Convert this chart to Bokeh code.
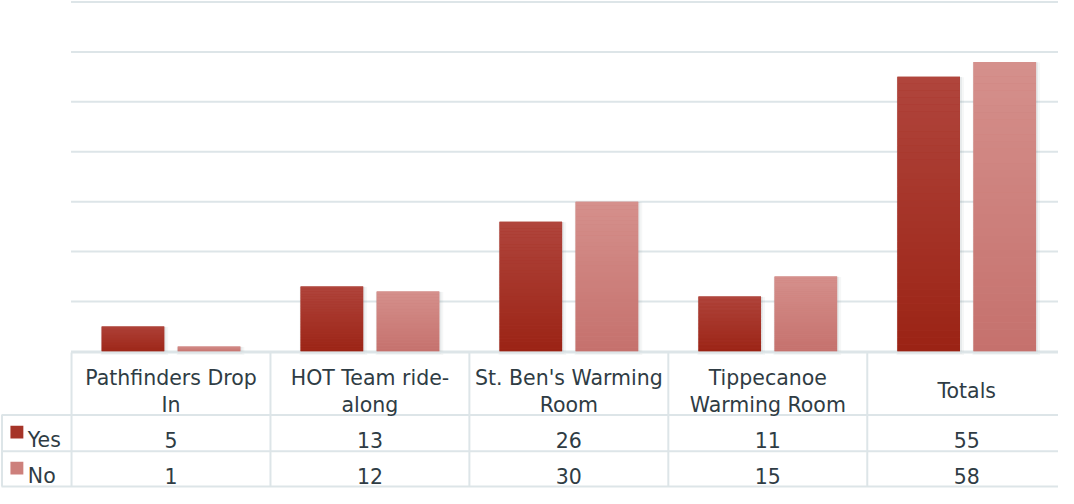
from bokeh.plotting import figure
from bokeh.models import Range1d, ColumnDataSource
from bokeh.embed import file_html
from bokeh.resources import INLINE
from bokeh.core.properties import value

# ---------------- data ----------------
categories = ["Pathfinders Drop In", "HOT Team ride-along", "St. Ben's Warming Room",
              "Tippecanoe Warming Room", "Totals"]
header_lines = [["Pathfinders Drop", "In"], ["HOT Team ride-", "along"],
                ["St. Ben's Warming", "Room"], ["Tippecanoe", "Warming Room"], ["Totals"]]
series = ["Yes", "No"]
yes_values = [5, 13, 26, 11, 55]
no_values = [1, 12, 30, 15, 58]
y_ticks = [0, 10, 20, 30, 40, 50, 60, 70]

# ---------------- styling / layout ----------------
FONT = "DejaVu Sans"
FSIZE = "20.5px"
TXT = "#2f3c44"
GRID = "#dde5e8"
YES_TOP, YES_BOT = (176, 69, 61), (155, 35, 20)
NO_TOP, NO_BOT = (213, 144, 140), (197, 113, 109)

COL = 200.25   # layout px per category column
X0 = 80.5      # layout px of first column's left edge
PXU = 5.1      # layout px per value unit
Y0 = 365.0     # layout px of value zero


def X(px):
    return (px - X0) / COL


def Y(py):
    return (Y0 - py) / PXU


BAR_W = 63 / COL
OFF = 38.3 / COL

p = figure(width=1058, height=488, output_backend="svg", toolbar_location=None,
           x_range=Range1d(X(9), X(1074)), y_range=Range1d(Y(505), Y(6.5)),
           min_border=0, outline_line_color=None)
p.axis.visible = False
p.grid.visible = False
p.background_fill_color = "white"
p.border_fill_color = "white"

# gridlines
p.segment(x0=[X(80)] * len(y_ticks), x1=[X(1074)] * len(y_ticks), y0=y_ticks, y1=y_ticks,
          line_color=GRID, line_width=2)


def mix(c1, c2, t):
    return "#%02x%02x%02x" % tuple(int(round(a + (b - a) * t)) for a, b in zip(c1, c2))


N = 40
n = len(categories)
for vals, off, ctop, cbot in [(yes_values, -OFF, YES_TOP, YES_BOT), (no_values, OFF, NO_TOP, NO_BOT)]:
    xs = [i + 0.5 + off for i in range(n)]
    # soft shadow
    p.vbar(x=[x + 1.5 / COL for x in xs], width=BAR_W + 5 / COL, top=[v - 0.1 for v in vals],
           bottom=-0.7, fill_color="#7a8a90", fill_alpha=0.07, line_color=None)
    p.vbar(x=[x + 1.0 / COL for x in xs], width=BAR_W + 2 / COL, top=[v - 0.05 for v in vals],
           bottom=-0.45, fill_color="#7a8a90", fill_alpha=0.12, line_color=None)
    # base bar
    p.vbar(x=xs, width=BAR_W, top=vals, bottom=0, fill_color=mix(cbot, ctop, 0.5), line_color=None)
    # gradient slices
    sx, sb, st, sc = [], [], [], []
    for i, v in enumerate(vals):
        for k in range(N):
            sx.append(xs[i])
            sb.append(v * k / N)
            st.append(v * (k + 1) / N)
            sc.append(mix(cbot, ctop, (k + 0.5) / N))
    src = ColumnDataSource(dict(x=sx, bottom=sb, top=st, color=sc))
    p.vbar(x="x", width=BAR_W, top="top", bottom="bottom", source=src,
           fill_color="color", line_color=None)

# ---------------- data table ----------------
row_lines = [366, 430, 467, 503]
p.segment(x0=[X(80)], x1=[X(1074)], y0=[Y(366)], y1=[Y(366)], line_color=GRID, line_width=2)
p.segment(x0=[X(10)] * 3, x1=[X(1074)] * 3, y0=[Y(r) for r in row_lines[1:]],
          y1=[Y(r) for r in row_lines[1:]], line_color=GRID, line_width=2)
vx = list(range(n))
p.segment(x0=vx, x1=vx, y0=[Y(366)] * n, y1=[Y(503)] * n, line_color=GRID, line_width=2)
p.segment(x0=[X(10.5)], x1=[X(10.5)], y0=[Y(430)], y1=[Y(503)], line_color=GRID, line_width=2)

# header labels
hx, hy, ht = [], [], []
for i, lines in enumerate(header_lines):
    bases = [391.7, 419.3] if len(lines) == 2 else [405.0]
    for ln, b in zip(lines, bases):
        hx.append(i + 0.5)
        hy.append(Y(b))
        ht.append(ln)
p.text(x=hx, y=hy, text=ht, text_font=value(FONT), text_font_size=FSIZE,
       text_color=TXT, text_align="center", text_baseline="alphabetic")

# values
for vals, base in [(yes_values, 455.7), (no_values, 492.3)]:
    p.text(x=[i + 0.5 for i in range(n)], y=[Y(base)] * n, text=[str(v) for v in vals],
           text_font=value(FONT), text_font_size=FSIZE, text_color=TXT,
           text_align="center", text_baseline="alphabetic")

# legend keys
for name, base, sq_top, col in [(series[0], 455.7, 441, mix(YES_BOT, YES_TOP, 0.5)),
                                (series[1], 492.3, 477.7, mix(NO_BOT, NO_TOP, 0.5))]:
    p.quad(left=[X(19)], right=[X(32)], top=[Y(sq_top)], bottom=[Y(sq_top + 13)],
           fill_color=col, line_color=None)
    p.text(x=[X(36.5)], y=[Y(base)], text=[name], text_font=value(FONT), text_font_size=FSIZE,
           text_color=TXT, text_align="left", text_baseline="alphabetic")

open("out.html", "w").write(file_html(p, INLINE))
